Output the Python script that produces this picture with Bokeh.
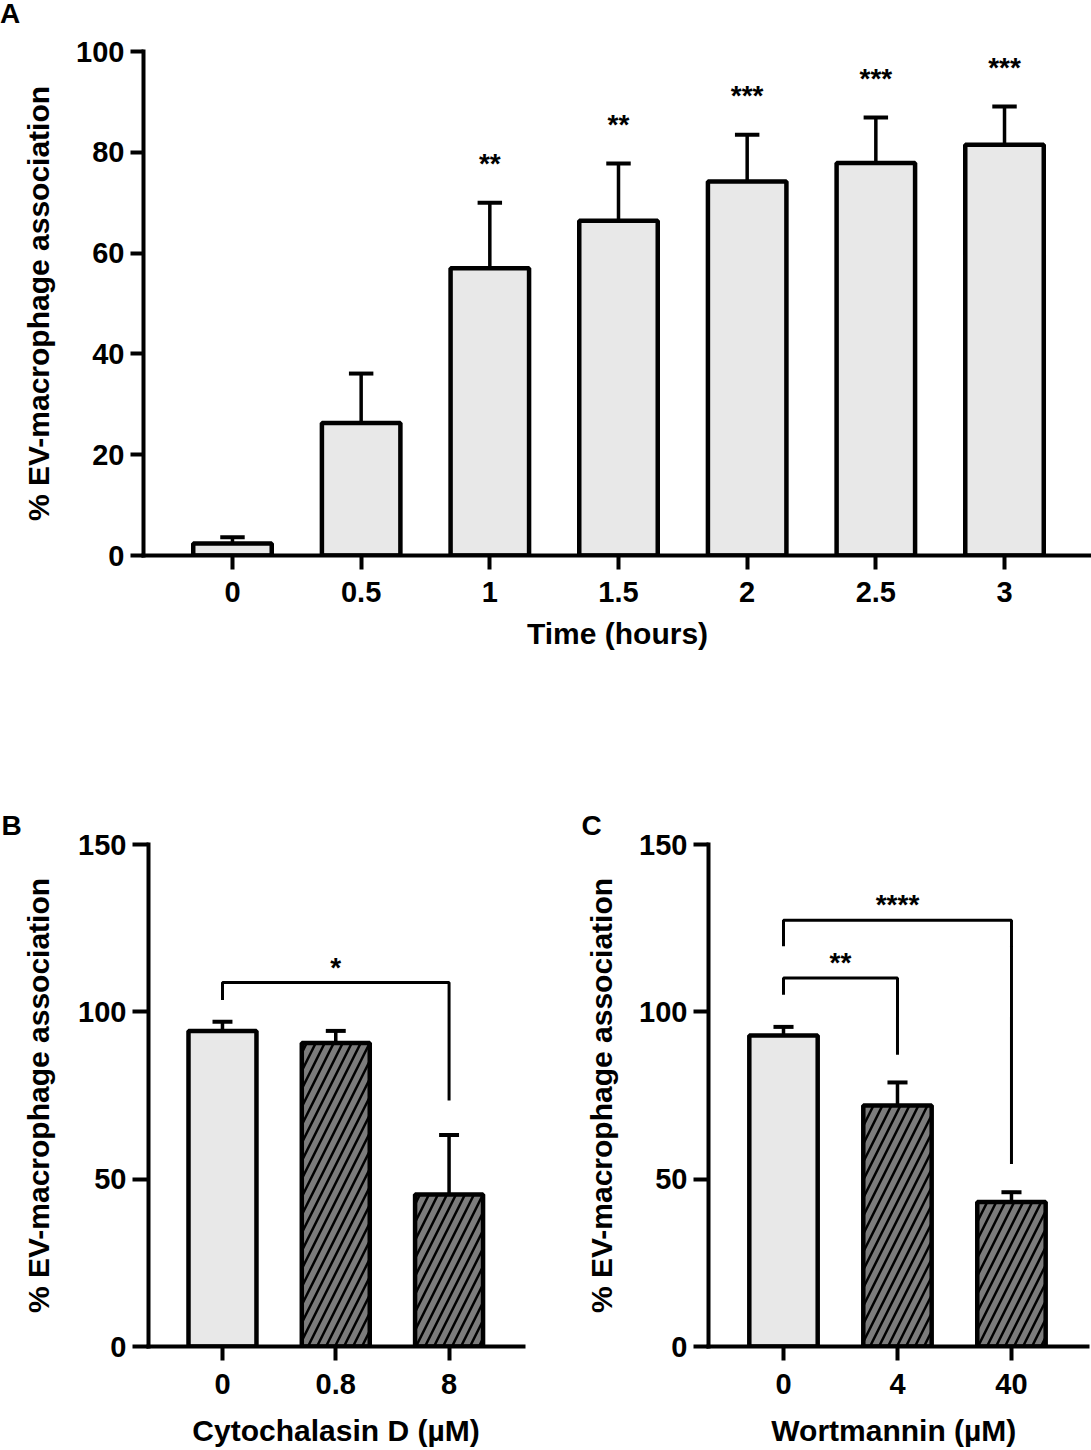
from bokeh.plotting import figure
from bokeh.models import Range1d, Div
from bokeh.layouts import column, row
from bokeh.embed import file_html
from bokeh.resources import INLINE
from bokeh.core.properties import value

FONT = "Liberation Sans"
LIGHT = "#e8e8e8"
DARK = "#7c7c7c"

# ---------------- data ----------------
# Panel A: time course
time_labels = ["0", "0.5", "1", "1.5", "2", "2.5", "3"]
time_mean = [2.4, 26.3, 57.0, 66.4, 74.2, 77.9, 81.5]
time_sd = [1.2, 9.8, 13.0, 11.4, 9.3, 9.0, 7.6]
time_sig = ["", "", "**", "**", "***", "***", "***"]

# Panel B: Cytochalasin D
cyto_labels = ["0", "0.8", "8"]
cyto_mean = [94.3, 90.7, 45.4]
cyto_sd = [2.7, 3.6, 17.8]
cyto_pairs = [(0, 2)]
cyto_pair_sig = ["*"]
cyto_pair_y = [108.8]
cyto_pair_ends = [(103.5, 73.5)]

# Panel C: Wortmannin
wort_labels = ["0", "4", "40"]
wort_mean = [92.9, 72.0, 43.2]
wort_sd = [2.6, 6.9, 2.9]
wort_pairs = [(0, 1), (0, 2)]
wort_pair_sig = ["**", "****"]
wort_pair_y = [110.1, 127.4]
wort_pair_ends = [(105.1, 87.2), (119.6, 54.5)]

YLABEL = "% EV-macrophage association"


def style(p, labels, yticks, xlabel, ylabel, xls, xas, yls, yas, ytick_out):
    p.grid.visible = False
    p.outline_line_color = None
    p.background_fill_color = "white"
    p.border_fill_color = "white"
    for ax in (p.xaxis[0], p.yaxis[0]):
        ax.axis_line_width = 4
        ax.axis_line_color = "black"
        ax.axis_line_cap = "square"
        ax.major_tick_line_width = 4
        ax.major_tick_line_color = "black"
        ax.major_tick_in = 0
        ax.minor_tick_in = 0
        ax.minor_tick_out = 0
        ax.major_label_text_font = FONT
        ax.major_label_text_font_style = "bold"
        ax.major_label_text_font_size = "29px"
        ax.major_label_text_color = "black"
        ax.axis_label_text_font = FONT
        ax.axis_label_text_font_style = "bold"
        ax.axis_label_text_font_size = "30px"
        ax.axis_label_text_color = "black"
    xa, ya = p.xaxis[0], p.yaxis[0]
    xa.ticker = list(range(len(labels)))
    xa.major_label_overrides = {i: lab for i, lab in enumerate(labels)}
    xa.major_tick_out = 14
    xa.major_label_standoff = xls
    xa.axis_label = xlabel
    xa.axis_label_standoff = xas
    ya.ticker = yticks
    ya.major_tick_out = ytick_out
    ya.major_label_standoff = yls
    ya.axis_label = ylabel
    ya.axis_label_standoff = yas


def letter(p, txt, offset, standoff):
    p.title.text = txt
    p.title.align = "left"
    p.title.offset = offset
    p.title.standoff = standoff
    p.title.vertical_align = "bottom"
    p.title.text_font = FONT
    p.title.text_font_size = "28px"
    p.title.text_font_style = "bold"
    p.title.text_color = "black"


def draw_bars(p, mean, sd, width, cap, hatched_from):
    xs = list(range(len(mean)))
    tops = [m + s for m, s in zip(mean, sd)]
    ctrl = [i for i in xs if i < hatched_from]
    trt = [i for i in xs if i >= hatched_from]
    # error bars (upper only, mean + SD)
    p.segment(x0=xs, y0=mean, x1=xs, y1=tops, line_color="black", line_width=3.5)
    p.segment(x0=[x - cap for x in xs], y0=tops, x1=[x + cap for x in xs], y1=tops,
              line_color="black", line_width=4)
    if ctrl:
        p.vbar(x=ctrl, top=[mean[i] for i in ctrl], bottom=0, width=width,
               fill_color=LIGHT, line_color="black", line_width=4.5)
    if trt:
        p.vbar(x=trt, top=[mean[i] for i in trt], bottom=0, width=width,
               fill_color=DARK, line_color="black", line_width=4.5,
               hatch_pattern="right_diagonal_line", hatch_color="black",
               hatch_weight=2.5, hatch_scale=18)


def draw_brackets(p, pairs, sig, ys, ends, star_off):
    xs_l, ys_l = [], []
    for (i, j), yb, (yl, yr) in zip(pairs, ys, ends):
        xs_l.append([i, i, j, j])
        ys_l.append([yl, yb, yb, yr])
    p.multi_line(xs=xs_l, ys=ys_l, line_color="black", line_width=3)
    p.text(x=[(i + j) / 2 for i, j in pairs], y=[yb + star_off for yb in ys], text=sig,
           text_font=value(FONT), text_font_size="28px", text_font_style="bold",
           text_align="center", text_baseline="alphabetic", text_color="black")


# ---------------- Panel A ----------------
letterA = Div(text="A", width=1091, height=28, margin=0,
              styles={"font-family": FONT, "font-size": "28px", "font-weight": "bold",
                      "line-height": "28px", "color": "black", "padding": "0px"})

pA = figure(width=1091, height=717, x_range=Range1d(-0.6915, 6.676), y_range=Range1d(0, 100),
            output_backend="svg", toolbar_location=None, tools="",
            min_border_left=143, min_border_right=0, min_border_top=23, min_border_bottom=190)
style(pA, time_labels, [0, 20, 40, 60, 80, 100], "Time (hours)", YLABEL,
      xls=12, xas=12, yls=6, yas=18, ytick_out=13)
draw_bars(pA, time_mean, time_sd, width=0.61, cap=0.095, hatched_from=len(time_mean))
sig_idx = [i for i, s in enumerate(time_sig) if s]
pA.text(x=sig_idx, y=[time_mean[i] + time_sd[i] + 7.7 for i in sig_idx],
        text=[time_sig[i] for i in sig_idx], text_font=value(FONT), text_font_size="28px",
        text_font_style="bold", text_align="center", text_baseline="alphabetic",
        text_color="black")

# ---------------- Panel B ----------------
pB = figure(width=562, height=705, x_range=Range1d(-0.653, 2.657), y_range=Range1d(0, 150),
            output_backend="svg", toolbar_location=None, tools="",
            min_border_left=148, min_border_right=39, min_border_top=99, min_border_bottom=104)
style(pB, cyto_labels, [0, 50, 100, 150], "Cytochalasin D (\u00b5M)", YLABEL,
      xls=13, xas=17, yls=6, yas=20, ytick_out=16)
draw_bars(pB, cyto_mean, cyto_sd, width=0.6, cap=0.088, hatched_from=1)
draw_brackets(pB, cyto_pairs, cyto_pair_sig, cyto_pair_y, cyto_pair_ends, 4.5)
letter(pB, "B", -147, 7)

# ---------------- Panel C ----------------
pC = figure(width=529, height=705, x_range=Range1d(-0.658, 2.667), y_range=Range1d(0, 150),
            output_backend="svg", toolbar_location=None, tools="",
            min_border_left=146, min_border_right=4, min_border_top=99, min_border_bottom=104)
style(pC, wort_labels, [0, 50, 100, 150], "Wortmannin  (\u00b5M)", YLABEL,
      xls=13, xas=17, yls=6, yas=18, ytick_out=15)
draw_bars(pC, wort_mean, wort_sd, width=0.6, cap=0.088, hatched_from=1)
draw_brackets(pC, wort_pairs, wort_pair_sig, wort_pair_y, wort_pair_ends, 4.7)
letter(pC, "C", -127, 7)

layout = column(letterA, pA, row(pB, pC))
open("out.html", "w").write(file_html(layout, INLINE))
